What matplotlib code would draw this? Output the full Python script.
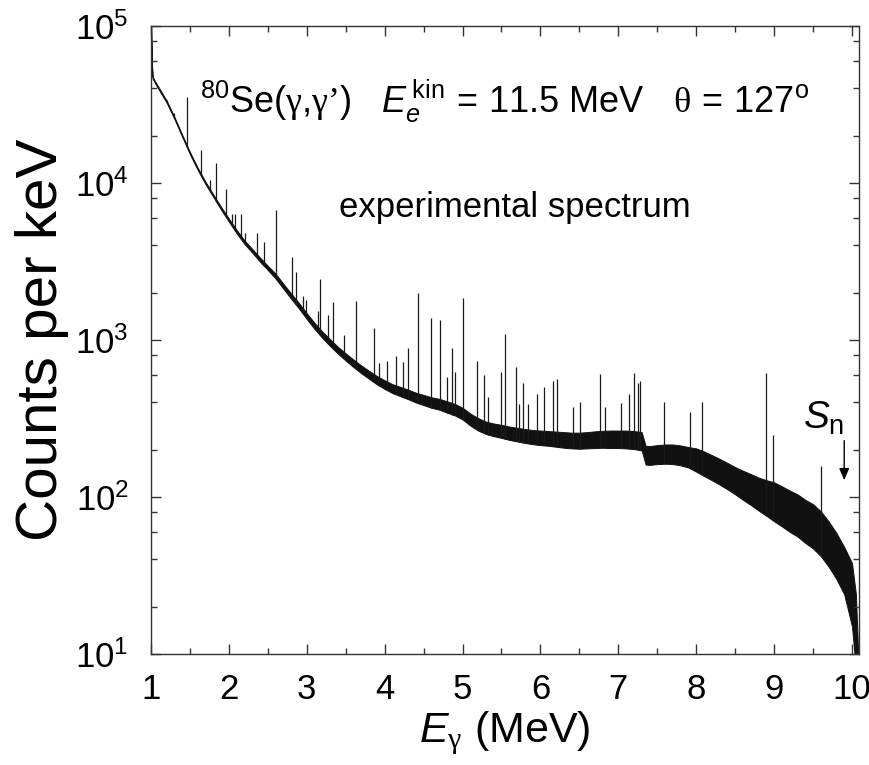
import numpy as np
import matplotlib
matplotlib.use("Agg")
import matplotlib.pyplot as plt
from matplotlib.ticker import FixedLocator, LogLocator, MultipleLocator, NullFormatter

plt.rcParams['font.family'] = ['Liberation Sans', 'DejaVu Sans']
plt.rcParams['mathtext.fontset'] = 'custom'
plt.rcParams['mathtext.rm'] = 'Liberation Sans'
plt.rcParams['mathtext.it'] = 'Liberation Sans:italic'
plt.rcParams['mathtext.bf'] = 'Liberation Sans:bold'
plt.rcParams['mathtext.sf'] = 'Liberation Serif'

# ---- data ----
# continuum band of the spectrum (counts per keV): lower / upper envelope
energy = [1.00, 1.01, 1.02, 1.05, 1.1, 1.2, 1.3, 1.4, 1.5, 1.6, 1.7, 1.8, 1.9,
          2.0, 2.1, 2.2, 2.3, 2.4, 2.5, 2.6, 2.7, 2.8, 2.9,
          3.0, 3.1, 3.2, 3.3, 3.4, 3.5, 3.6, 3.7, 3.8, 3.9,
          4.0, 4.1, 4.2, 4.3, 4.4, 4.5, 4.6, 4.7, 4.8, 4.9,
          5.0, 5.1, 5.2, 5.3, 5.4, 5.5, 5.6, 5.7, 5.8, 5.9,
          6.0, 6.1, 6.2, 6.3, 6.4, 6.5, 6.6, 6.7, 6.8, 6.9,
          7.0, 7.1, 7.2, 7.3, 7.35, 7.4, 7.5, 7.6, 7.7, 7.8, 7.9,
          8.0, 8.1, 8.2, 8.3, 8.4, 8.5, 8.6, 8.7, 8.8, 8.9,
          9.0, 9.1, 9.2, 9.3, 9.4, 9.5, 9.6, 9.7, 9.8, 9.9,
          10.0, 10.05, 10.08]
lower = [95000, 59000, 46300, 43400, 39400, 32500, 25600, 19700, 15250, 12100, 9820, 8150, 6760,
         5670, 4780, 4090, 3600, 3150, 2790, 2460, 2120, 1830, 1585,
         1360, 1175, 1030, 915, 818, 740, 672, 614, 566, 522,
         488, 459, 439, 420, 400, 385, 370, 360, 345, 331,
         312, 285, 265, 252, 244, 238, 231, 226, 221, 217,
         214, 212, 209, 206, 204, 203, 204, 205, 206, 205,
         205, 204, 202, 198, 161, 160, 162, 163, 162, 159, 154,
         145, 136, 128, 120, 112, 104, 96, 89, 82, 76,
         70, 65, 60, 56, 51, 47, 42, 36, 30, 24,
         15, 8, 3]
upper = [120000, 61000, 47700, 44600, 40600, 33500, 26400, 20300, 15750, 12500, 10180, 8450, 7040,
         5930, 5020, 4310, 3800, 3350, 2970, 2640, 2280, 1975, 1720,
         1480, 1285, 1130, 1010, 905, 822, 750, 688, 636, 590,
         554, 523, 503, 483, 462, 447, 432, 422, 407, 392,
         370, 340, 318, 302, 294, 288, 281, 276, 271, 267,
         265, 263, 261, 259, 257, 257, 259, 262, 264, 265,
         265, 265, 263, 259, 212, 211, 214, 216, 216, 213, 208,
         204, 195, 185, 175, 165, 155, 147, 140, 133, 128,
         124, 117, 110, 104, 96, 90, 81, 70, 59, 48,
         38, 24, 10]

# gamma-ray lines: energy (MeV) and peak top (counts per keV)
peak_energy = [1.20, 1.29, 1.46, 1.64, 1.76, 1.84, 1.96, 2.04, 2.08, 2.15, 2.21, 2.36, 2.45,
               2.60, 2.81, 2.86, 2.95, 2.99, 3.15, 3.17, 3.27, 3.34, 3.48, 3.63, 3.86, 3.93,
               4.03, 4.14, 4.23, 4.30, 4.43, 4.59, 4.71, 4.80, 4.87, 4.90, 5.01, 5.19, 5.27,
               5.33, 5.49, 5.55, 5.68, 5.73, 5.78, 5.84, 5.95, 6.04, 6.16, 6.21, 6.42, 6.51,
               6.77, 6.83, 7.03, 7.14, 7.20, 7.25, 7.28, 7.58, 7.92, 8.08, 8.90, 8.98, 9.60]
peak_top = [34000, 28000, 35500, 16200, 10400, 13400, 9100, 6340, 6340, 6340, 4800, 4800, 4240,
            6760, 3380, 2700, 1900, 1790, 1520, 2450, 1440, 1750, 1070, 1770, 1200, 710,
            740, 790, 725, 890, 2000, 1380, 1350, 580, 895, 630, 1860, 740, 600,
            435, 630, 1100, 670, 390, 535, 390, 455, 500, 545, 565, 375, 400,
            610, 375, 398, 455, 615, 530, 545, 400, 347, 405, 612, 247, 158]

x_ticks = [1, 2, 3, 4, 5, 6, 7, 8, 9, 10]

# ---- figure ----
fig = plt.figure(figsize=(8.7, 7.65), dpi=100)
ax = fig.add_axes([151/870, 1 - 654/765, (859 - 151)/870, (654 - 26)/765])

ax.fill_between(energy, lower, upper, color='#111111', linewidth=0.7, edgecolor='#111111')
base = np.interp(peak_energy, energy, lower)
ax.vlines(peak_energy, base, peak_top, color='#1a1a1a', linewidth=0.9)

ax.set_yscale('log')
ax.set_xlim(1, 10.09)
ax.set_ylim(10, 1e5)

ax.xaxis.set_major_locator(FixedLocator(x_ticks))
ax.xaxis.set_minor_locator(MultipleLocator(0.5))
ax.yaxis.set_major_locator(LogLocator(base=10, numticks=10))
ax.yaxis.set_minor_locator(LogLocator(base=10, subs=[2, 4, 6, 8], numticks=10))
ax.yaxis.set_minor_formatter(NullFormatter())

ax.tick_params(which='both', direction='in', top=True, right=True,
               color='#333333', labelcolor='black')
ax.tick_params(which='major', length=7, width=1.0, labelsize=25)
ax.tick_params(which='minor', length=4, width=1.0)
ax.tick_params(axis='y', which='major', pad=16)
ax.tick_params(axis='x', which='major', pad=14)
for s in ax.spines.values():
    s.set_linewidth(1.0)
    s.set_color('#333333')

ax.set_ylabel('Counts per keV', fontsize=42, labelpad=4)
ax.set_xlabel(r'$E_{\mathsf{\gamma}}$ (MeV)', fontsize=31, labelpad=2)

ax.text(0.069, 0.861,
        r"$^{80}\mathrm{Se}(\mathsf{\gamma}{,}\mathsf{\gamma}\mathsf{’})\quad E_e^{\,\mathrm{kin}}\,=\,11.5\ \mathrm{MeV}\quad \mathsf{\theta}\,=\,127^{\mathrm{o}}$",
        transform=ax.transAxes, fontsize=26, ha='left', va='baseline')
ax.text(0.514, 0.696, 'experimental spectrum', transform=ax.transAxes,
        fontsize=25, ha='center', va='baseline')

ax.text(9.63, 315, r'$S_{\mathrm{n}}$', fontsize=28, ha='center', va='center')
ax.annotate('', xy=(9.90, 123), xytext=(9.90, 238),
            arrowprops=dict(arrowstyle='-|>,head_length=0.7,head_width=0.3',
                            lw=1.0, color='black'))

fig.savefig('out.png', dpi=100)
